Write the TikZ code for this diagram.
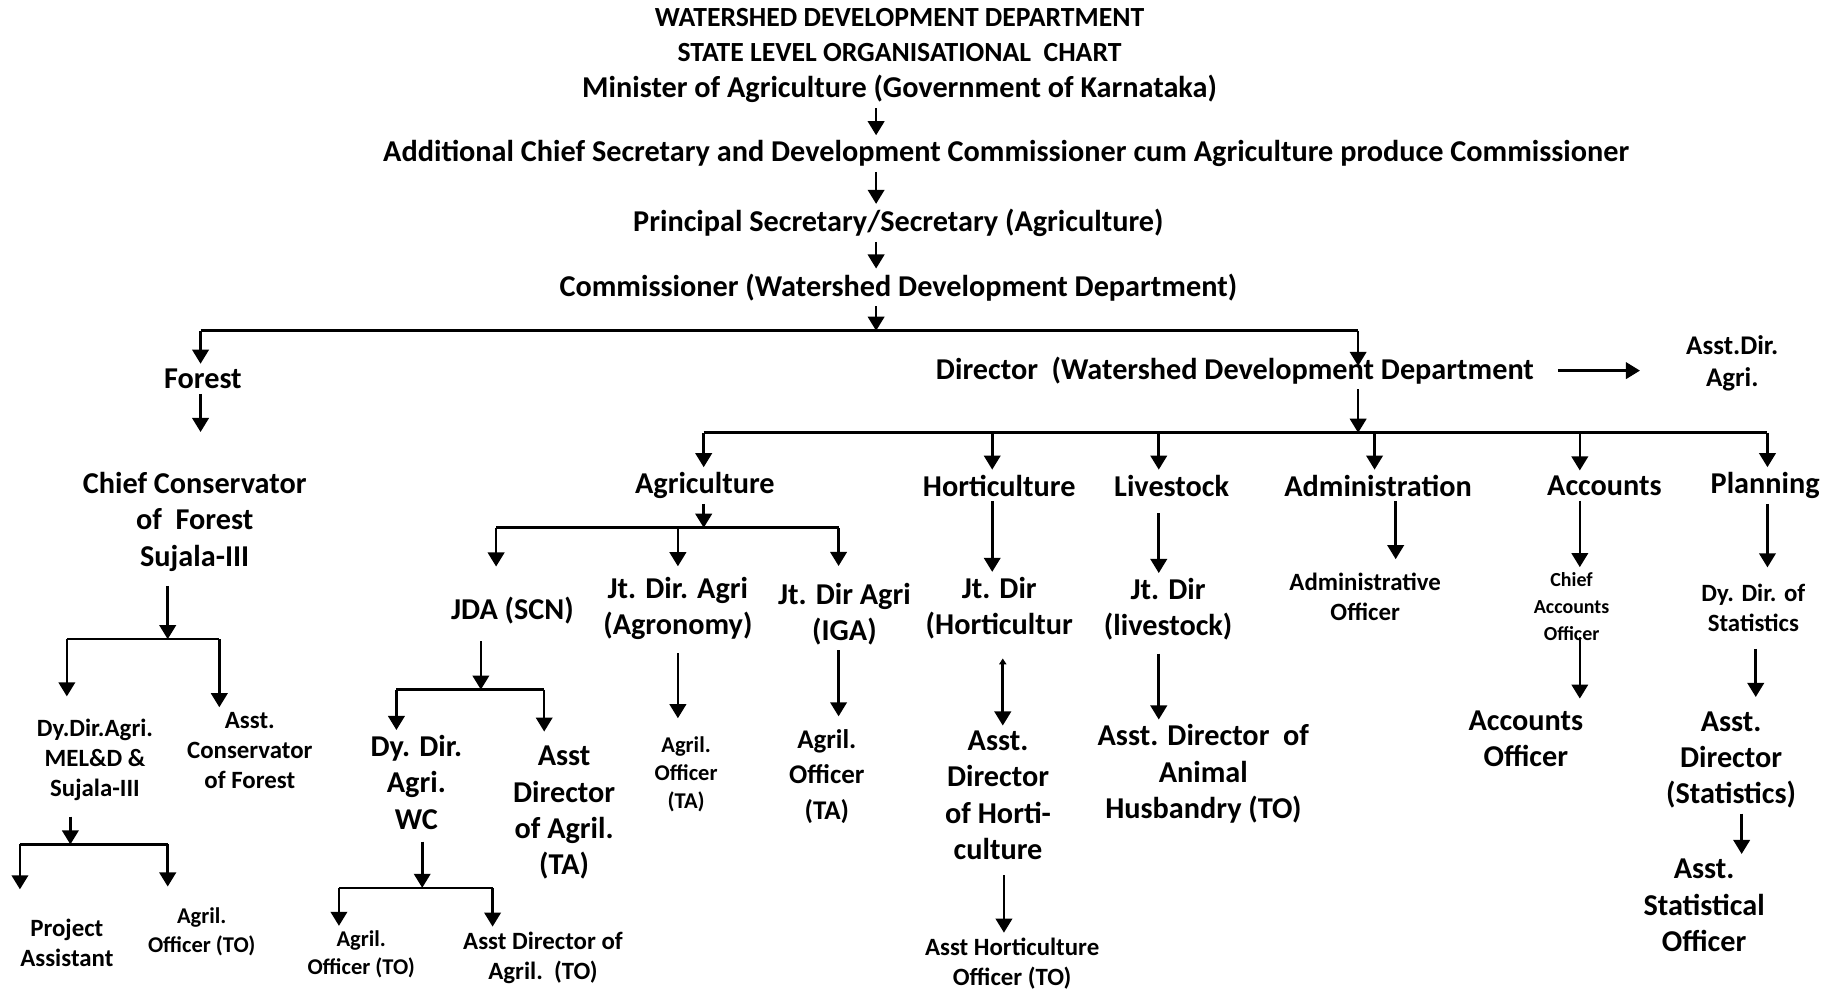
\documentclass[tikz,border=0pt]{standalone}
\usepackage{fontspec}
\setmainfont{Carlito}
\usetikzlibrary{arrows.meta}
\tikzset{
  lbl/.style={font=\bfseries\fontsize{12.9}{15.5}\selectfont,align=center,inner sep=2pt},
  titlelbl/.style={lbl,font=\bfseries\fontsize{11.8}{14}\selectfont},
  midlbl/.style={lbl,font=\bfseries\fontsize{11.5}{15}\selectfont},
  smalllbl/.style={lbl,font=\bfseries\fontsize{10.6}{12.8}\selectfont},
  finelbl/.style={lbl,font=\bfseries\fontsize{9.6}{12}\selectfont},
  tinylbl/.style={lbl,font=\bfseries\fontsize{8.5}{11.5}\selectfont},
  arr/.style={-{Triangle[length=6pt,width=7pt]},line width=1.1pt},
  twoarr/.style={{Triangle[length=2.5pt,width=3pt]}-{Triangle[length=6pt,width=7pt]},line width=1.1pt},
  bar/.style={line width=1.1pt}
}
\begin{document}
\begin{tikzpicture}[x=0.5pt,y=-0.5pt]
  \path[fill=white] (0,0) rectangle (1568,844);
  \useasboundingbox (0,0) rectangle (1568,844);
  % heading and top chain
  \node[titlelbl] (head) at (767,15) {WATERSHED DEVELOPMENT DEPARTMENT};
  \node[titlelbl] (subhead) at (767,45) {STATE LEVEL ORGANISATIONAL~~CHART};
  \node[lbl] (minister) at (767,76) {Minister of Agriculture (Government of Karnataka)};
  \node[lbl] (acs) at (858,131) {Additional Chief Secretary and Development Commissioner cum Agriculture produce Commissioner};
  \node[lbl] (principal) at (766,190) {Principal Secretary/Secretary (Agriculture)};
  \node[lbl] (commissioner) at (766,245) {Commissioner (Watershed Development Department)};
  \node[lbl] (forest) at (173,323) {Forest};
  \node[lbl] (director) at (1053,316) {Director~~(Watershed Development Department};
  \node[midlbl,font=\bfseries\fontsize{11.5}{13.5}\selectfont] (asstdir) at (1477,309.5) {Asst.Dir.\\Agri.};
  % forest side
  \node[lbl] (chiefcons) at (166,445) {Chief Conservator\\of~~Forest\\Sujala-III};
  \node[smalllbl] (dyagri) at (81,648) {Dy.Dir.Agri.\\MEL\&D \&\\Sujala-III};
  \node[smalllbl] (acf) at (213,640) {Asst.\\Conservator\\of Forest};
  \node[smalllbl] (pa) at (57,804) {Project\\Assistant};
  \node[finelbl] (aoto) at (172,794.5) {Agril.\\Officer (TO)};
  % wings under the director
  \node[lbl] (agri) at (601,414) {Agriculture};
  \node[lbl] (horti) at (852,414) {Horticulture};
  \node[lbl] (livestock) at (999,414) {Livestock};
  \node[lbl] (admin) at (1175,414) {Administration};
  \node[lbl] (accounts) at (1368,414) {Accounts};
  \node[lbl] (planning) at (1505,414) {Planning};
  % agriculture
  \node[lbl] (jda) at (437,521) {JDA (SCN)};
  \node[lbl] (jdagron) at (578,519) {Jt. Dir. Agri\\(Agronomy)};
  \node[lbl] (jdiga) at (720,523.5) {Jt. Dir Agri\\(IGA)};
  \node[lbl] (dydirwc) at (355,667) {Dy. Dir.\\Agri.\\WC};
  \node[lbl] (adta) at (481,693) {Asst\\Director\\of Agril.\\(TA)};
  \node[finelbl] (aowc) at (308,814) {Agril.\\Officer (TO)};
  \node[smalllbl] (adto) at (463,816.5) {Asst Director of\\Agril.~~(TO)};
  \node[finelbl] (aoagron) at (585,660) {Agril.\\Officer\\(TA)};
  \node[midlbl] (aoiga) at (705,662) {Agril.\\Officer\\(TA)};
  % horticulture and livestock
  \node[lbl] (jdhorti) at (852,518.5) {Jt. Dir\\(Horticultur};
  \node[lbl] (adhorti) at (851,678) {Asst.\\Director\\of Horti-\\culture};
  \node[smalllbl] (ahorti) at (863,821.5) {Asst Horticulture\\Officer (TO)};
  \node[lbl] (jdlive) at (996,519.5) {Jt. Dir\\(livestock)};
  \node[lbl] (adah) at (1026,660) {Asst. Director~~of\\Animal\\Husbandry (TO)};
  % administration, accounts, planning
  \node[smalllbl] (admoff) at (1164,508.5) {Administrative\\Officer};
  \node[tinylbl] (cao) at (1340,517) {Chief\\Accounts\\Officer};
  \node[lbl] (accoff) at (1301,630) {Accounts\\Officer};
  \node[smalllbl] (dydirstat) at (1495,518.5) {Dy. Dir. of\\Statistics};
  \node[lbl] (adstat) at (1476,648) {Asst.\\Director\\(Statistics)};
  \node[lbl] (aso) at (1453,772) {Asst.\\Statistical\\Officer};

  % junctions
  \coordinate (spine) at (747,282);
  \coordinate (fb) at (171,282);
  \coordinate (db) at (1158,282);
  \coordinate (ccb) at (143,545);
  \coordinate (ccl) at (57,545);
  \coordinate (ccr) at (187,545);
  \coordinate (dyb) at (60,720);
  \coordinate (dyl) at (17,720);
  \coordinate (dyr) at (143,720);
  \coordinate (dirb) at (1158,369);
  \coordinate (d1) at (600,369);
  \coordinate (d2) at (846,369);
  \coordinate (d3) at (988,369);
  \coordinate (d4) at (1172,369);
  \coordinate (d5) at (1347,369);
  \coordinate (d6) at (1507,369);
  \coordinate (agb) at (600,450);
  \coordinate (ag1) at (423,450);
  \coordinate (ag2) at (578,450);
  \coordinate (ag3) at (715,450);
  \coordinate (jdb) at (410,588);
  \coordinate (jd1) at (338,588);
  \coordinate (jd2) at (464,588);
  \coordinate (wcb) at (360,757);
  \coordinate (wc1) at (289,757);
  \coordinate (wc2) at (420,757);

  % top chain
  \draw[arr] (minister.south -| spine) -- (acs.north -| spine);
  \draw[arr] (acs.south -| spine) -- (principal.north -| spine);
  \draw[arr] (principal.south -| spine) -- (commissioner.north -| spine);
  \draw[arr] (commissioner.south -| spine) -- (spine);
  \draw[bar] (fb) -- (db);
  \draw[arr] (fb) -- (fb |- forest.north);
  \draw[arr,shorten >=-6pt] (db) -- (db |- director.north);
  \draw[arr,shorten <=8pt,shorten >=17.5pt] (director.east) -- (director.east -| asstdir.west);
  % forest
  \draw[arr,shorten >=15pt] (forest.south -| fb) -- (chiefcons.north -| fb);
  \draw[arr,shorten <=4pt] (chiefcons.south -| ccb) -- (ccb);
  \draw[bar] (ccl) -- (ccr);
  \draw[arr,shorten >=7.5pt] (ccl) -- (ccl |- dyagri.north);
  \draw[arr] (ccr) -- (ccr |- acf.north);
  \draw[arr,shorten <=4.5pt] (dyagri.south -| dyb) -- (dyb);
  \draw[bar] (dyl) -- (dyr);
  \draw[arr,shorten >=10.5pt] (dyl) -- (dyl |- pa.north);
  \draw[arr,shorten >=7pt] (dyr) -- (dyr |- aoto.north);
  % director
  \draw[arr] (director.south -| dirb) -- (dirb);
  \draw[bar] (d1) -- (d6);
  \draw[arr] (d1) -- (d1 |- agri.north);
  \draw[arr] (d2) -- (d2 |- horti.north);
  \draw[arr] (d3) -- (d3 |- livestock.north);
  \draw[arr] (d4) -- (d4 |- admin.north);
  \draw[arr] (d5) -- (d5 |- accounts.north);
  \draw[arr] (d6) -- (d6 |- planning.north);
  % agriculture
  \draw[arr] (agri.south -| agb) -- (agb);
  \draw[bar] (ag1) -- (ag3);
  \draw[arr,shorten >=11pt] (ag1) -- (ag1 |- jda.north);
  \draw[arr,shorten >=2.5pt] (ag2) -- (ag2 |- jdagron.north);
  \draw[arr,shorten >=5pt] (ag3) -- (ag3 |- jdiga.north);
  \draw[arr,shorten <=5pt] (jda.south -| jdb) -- (jdb);
  \draw[bar] (jd1) -- (jd2);
  \draw[arr] (jd1) -- (jd1 |- dydirwc.north);
  \draw[arr,shorten >=4pt] (jd2) -- (jd2 |- adta.north);
  \draw[arr,shorten <=3pt] (dydirwc.south -| wcb) -- (wcb);
  \draw[bar] (wc1) -- (wc2);
  \draw[arr] (wc1) -- (wc1 |- aowc.north);
  \draw[arr] (wc2) -- (wc2 |- adto.north);
  \draw[arr,shorten <=3.5pt,shorten >=5.5pt] (jdagron.south) -- (jdagron.south |- aoagron.north);
  \draw[arr,shorten >=3.5pt] (jdiga.south -| ag3) -- (aoiga.north -| ag3);
  % horticulture
  \draw[arr] (horti.south -| d2) -- (jdhorti.north -| d2);
  \draw[twoarr,shorten <=6pt] (jdhorti.south -| 855,0) -- (adhorti.north -| 855,0);
  \draw[arr,shorten <=4.5pt] (adhorti.south -| 856,0) -- (ahorti.north -| 856,0);
  % livestock
  \draw[arr,shorten <=5pt] (livestock.south -| d3) -- (jdlive.north -| d3);
  \draw[arr,shorten <=3.5pt] (jdlive.south -| d3) -- (adah.north -| d3);
  % administration
  \draw[arr,shorten >=3.5pt] (admin.south -| 1190,0) -- (admoff.north -| 1190,0);
  % accounts
  \draw[arr] (accounts.south -| d5) -- (cao.north -| d5);
  \draw[arr,shorten <=-3.5pt,shorten >=3pt] (cao.south -| d5) -- (accoff.north -| d5);
  % planning
  \draw[arr,shorten >=5pt] (planning.south -| d6) -- (dydirstat.north -| d6);
  \draw[arr,shorten <=5pt,shorten >=4pt] (dydirstat.south -| 1497,0) -- (adstat.north -| 1497,0);
  \draw[arr] (adstat.south -| 1485,0) -- (aso.north -| 1485,0);
\end{tikzpicture}
\end{document}
